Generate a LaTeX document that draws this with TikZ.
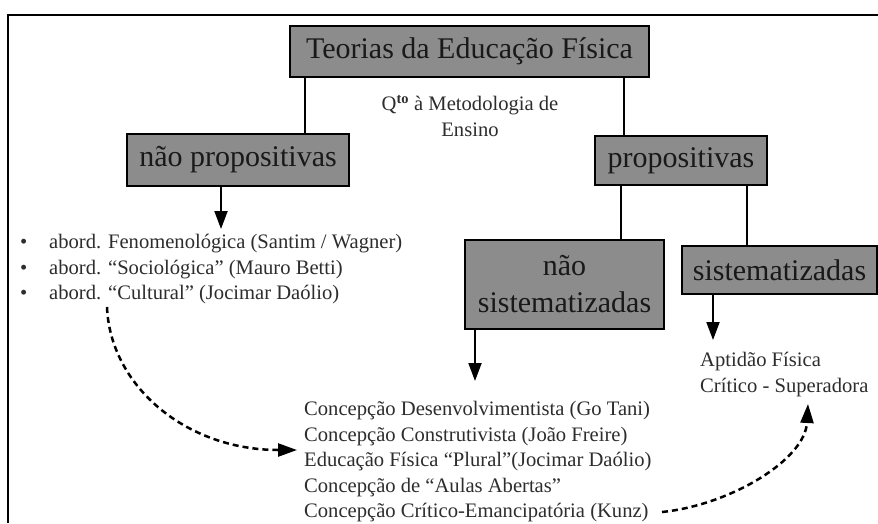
\documentclass[tikz,border=0pt]{standalone}
\usepackage{fontspec}
\setmainfont{Liberation Serif}
\usetikzlibrary{arrows.meta,calc}
\definecolor{boxgray}{RGB}{140,140,140}
\definecolor{txt}{RGB}{45,45,45}
\begin{document}
\begin{tikzpicture}[x=1pt,y=-1pt,
  box/.style={draw=black,line width=2pt,fill=boxgray,font=\fontsize{30}{37}\selectfont,text={black!90},inner sep=0pt,align=center},
  link/.style={line width=2pt},
  solidarrow/.style={line width=2pt,-{Triangle[width=13pt,length=18pt]}},
  dasharrow/.style={line width=2.5pt,dash pattern=on 6pt off 4pt,-{Triangle[width=13pt,length=19pt]}},
  small/.style={font=\fontsize{20.6}{25.5}\selectfont,text=txt,inner sep=0pt}]
\useasboundingbox (0,0) rectangle (878,523);
\fill[white] (0,0) rectangle (878,523);
\draw[line width=2.5pt] (878,15) -- (8,15) -- (8,523);

\node[box,minimum width=359pt,minimum height=51pt] (teo) at (469.5,51.5) {Teorias da Educação Física};
\node[box,minimum width=222pt,minimum height=52pt] (np) at (238,160) {não propositivas};
\node[box,minimum width=172pt,minimum height=49pt] (pr) at (681,160.5) {propositivas};
\node[box,minimum width=199pt,minimum height=89pt] (ns) at (564.5,284.5) {não\\sistematizadas};
\node[box,minimum width=195pt,minimum height=48pt] (si) at (779.5,270) {sistematizadas};

\node[small,align=center,anchor=north] (qto) at (470,95) {Q\textsuperscript{\textbf{to}} à Metodologia de\\Ensino};

\node[small,align=left,anchor=north west] (abl) at (20,234)
  {\makebox[29pt][l]{\textbullet}abord. Fenomenológica (Santim / Wagner)\\
   \makebox[29pt][l]{\textbullet}abord. “Sociológica” (Mauro Betti)\\
   \makebox[29pt][l]{\textbullet}abord. “Cultural” (Jocimar Daólio)};

\node[small,align=left,anchor=north west] (conc) at (304,401)
  {Concepção Desenvolvimentista (Go Tani)\\
   Concepção Construtivista (João Freire)\\
   Educação Física “Plural”(Jocimar Daólio)\\
   Concepção de “Aulas Abertas”\\
   Concepção Crítico-Emancipatória (Kunz)};

\node[small,align=left,anchor=north west] (apt) at (700,352)
  {Aptidão Física\\Crítico - Superadora};

\draw[link] ([xshift=16pt]teo.south west) -- ([xshift=16pt]teo.south west |- np.north);
\draw[link] ([xshift=-26pt]teo.south east) -- ([xshift=-26pt]teo.south east |- pr.north);
\draw[link] ([xshift=27pt]pr.south west) -- ([xshift=27pt]pr.south west |- ns.north);
\draw[link] ([xshift=-21pt]pr.south east) -- ([xshift=-21pt]pr.south east |- si.north);

\draw[solidarrow] ([xshift=-17pt]np.south) -- ++(0,42);
\draw[solidarrow] ([xshift=11pt]ns.south west) -- ++(0,51);
\draw[solidarrow] ([xshift=32pt]si.south west) -- ++(0,45);

\coordinate (d1s) at (107,307);
\coordinate (d1e) at (297,450);
\coordinate (d2s) at (662,512);
\coordinate (d2e) at (808,404);
\draw[dasharrow] (d1s) .. controls (110,385) and (185,450) .. (d1e);
\draw[dasharrow] (d2s) .. controls (730,505) and (805,460) .. (d2e);
\end{tikzpicture}
\end{document}
